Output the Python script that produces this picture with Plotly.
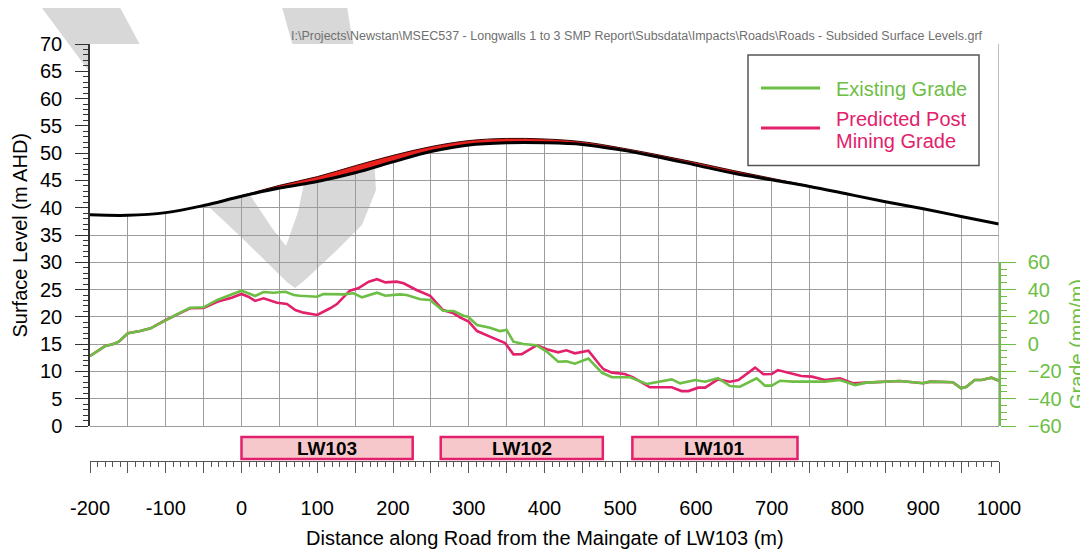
import plotly.graph_objects as go

# ---------------- data ----------------
surf_x = [-200, -150, -100, -50, 0, 50, 100, 150, 200, 250, 300, 350, 400,
          450, 500, 550, 600, 650, 700, 750, 800, 850, 900, 950, 1000]
existing_level = [38.7, 38.6, 39.1, 40.4, 42.2, 44.1, 45.7, 47.7, 49.6, 51.2, 52.3, 52.7, 52.6,
                  52.1, 51.0, 49.7, 48.3, 46.8, 45.4, 44.0, 42.5, 41.1, 39.8, 38.4, 37.0]
subsided_level = [38.7, 38.6, 39.1, 40.4, 42.1, 43.6, 44.8, 46.4, 48.4, 50.3, 51.5, 51.9, 51.9,
                  51.6, 50.6, 49.3, 47.8, 46.3, 45.1, 43.9, 42.5, 41.1, 39.8, 38.4, 37.0]

existing_grade_x = [-200, -190, -180, -170, -162, -150, -134, -120, -100, -81,
                    -68, -50, -32, -11, 0, 9, 18, 29, 42, 58,
                    69, 77, 100, 108, 135, 148, 159, 179, 190, 209,
                    218, 236, 249, 266, 280, 293, 299, 311, 328, 341,
                    350, 359, 372, 389, 403, 418, 429, 440, 458, 476,
                    489, 513, 535, 568, 579, 599, 612, 629, 645, 658,
                    680, 691, 700, 711, 728, 753, 770, 790, 810, 825,
                    847, 869, 900, 909, 939, 950, 957, 968, 977, 990, 1000]
existing_grade = [-8.7, -4.8, -1.4, -0.1, 1.8, 8.0, 9.6, 11.6, 17.7, 23.1,
                  26.7, 27.0, 32.4, 36.8, 39.2, 37.3, 35.3, 38.2, 37.7, 38.4,
                  36.0, 35.5, 34.8, 36.8, 36.5, 37.3, 34.3, 37.7, 35.5, 36.5,
                  36.0, 32.9, 32.4, 24.5, 24.3, 20.8, 20.1, 14.0, 12.0, 9.6,
                  10.4, 1.8, 0.1, -0.8, -5.5, -12.9, -12.6, -14.3, -10.6, -21.0,
                  -24.3, -24.3, -29.2, -25.8, -28.7, -26.3, -27.5, -25.0, -30.7, -31.2,
                  -25.0, -30.4, -30.4, -26.8, -27.5, -27.5, -27.5, -26.3, -30.0, -28.2,
                  -27.8, -27.0, -28.7, -27.5, -27.9, -32.4, -31.2, -26.3, -26.3, -24.6, -26.8]

predicted_grade_x = [-200, -190, -180, -170, -162, -150, -134, -120, -100, -81,
                     -68, -50, -32, -13, 0, 9, 18, 29, 47, 60,
                     71, 82, 100, 117, 126, 143, 154, 168, 179, 190,
                     205, 214, 231, 249, 266, 280, 289, 300, 311, 328,
                     348, 359, 370, 390, 403, 418, 429, 440, 458, 473,
                     478, 489, 506, 517, 539, 568, 581, 590, 603, 612,
                     629, 645, 656, 678, 689, 700, 708, 722, 739, 753,
                     770, 790, 807, 825, 847, 869, 900, 909, 939, 950,
                     957, 968, 977, 990, 1000]
predicted_grade = [-8.7, -4.8, -1.4, -0.1, 1.8, 8.0, 9.6, 11.6, 17.7, 22.8,
                   26.3, 26.5, 31.1, 34.0, 36.8, 34.8, 31.7, 33.6, 30.4, 29.4,
                   25.0, 23.1, 21.4, 26.3, 29.4, 39.2, 40.9, 45.8, 47.6, 45.3,
                   45.8, 44.6, 39.7, 35.5, 25.0, 22.6, 19.4, 16.5, 9.6, 5.5,
                   0.8, -7.5, -7.3, -0.8, -3.7, -6.0, -4.5, -6.7, -4.8, -15.3,
                   -18.4, -20.9, -21.9, -24.3, -31.6, -31.6, -34.4, -34.4, -31.9, -31.9,
                   -25.8, -27.5, -26.3, -17.2, -22.1, -21.9, -19.0, -20.9, -23.3, -23.8,
                   -26.3, -25.0, -28.7, -28.2, -27.8, -27.0, -28.7, -27.5, -27.9, -32.4,
                   -31.2, -26.3, -26.3, -24.6, -26.8]

panel_names = ["LW103", "LW102", "LW101"]
panel_start = [0, 263, 516]
panel_end = [226, 477, 734]

x_tick_vals = list(range(-200, 1001, 50))
x_tick_text = [str(v) if v % 100 == 0 else "" for v in x_tick_vals]

file_path = ("I:\\Projects\\Newstan\\MSEC537 - Longwalls 1 to 3 SMP Report\\Subsdata\\"
             "Impacts\\Roads\\Roads - Subsided Surface Levels.grf")

# ---------------- styling ----------------
# the page body has an 8 px margin, so the figure is drawn 8 px smaller
W, H = 1080, 541
ML, MR, MT, MB = 82, 89, 36, 88
PW, PH = W - ML - MR, H - MT - MB
OFF = 8
FONT = "Arial, Liberation Sans, sans-serif"
GREEN = "#6dbe45"
PINK = "#e3206b"
GRID = "#9c9c9c"


def px(x):
    return (x - OFF - ML) / PW


def py(y):
    return (H - MB - (y - OFF)) / PH


y_bottom = py(426)
y2_top = py(262.3)

fig = go.Figure()

# surface: subsided (lower), existing (upper, red fill between), white mask above
fig.add_trace(go.Scatter(x=surf_x, y=subsided_level, mode="lines",
                         line=dict(width=0, shape="spline", color="black"),
                         hoverinfo="skip", showlegend=False))
fig.add_trace(go.Scatter(x=surf_x, y=existing_level, mode="lines",
                         line=dict(width=1, shape="spline", color="#3a0000"),
                         fill="tonexty", fillcolor="#e8201e", showlegend=False))
fig.add_trace(go.Scatter(x=surf_x, y=[70] * len(surf_x), mode="lines",
                         line=dict(width=0, shape="spline"),
                         fill="tonexty", fillcolor="white",
                         hoverinfo="skip", showlegend=False))
fig.add_trace(go.Scatter(x=surf_x, y=subsided_level, mode="lines",
                         line=dict(width=3, shape="spline", color="black"),
                         showlegend=False))

# grades
fig.add_trace(go.Scatter(x=predicted_grade_x, y=predicted_grade, mode="lines",
                         line=dict(width=2.6, color=PINK), yaxis="y2",
                         name="Predicted Post Mining Grade", showlegend=False))
fig.add_trace(go.Scatter(x=existing_grade_x, y=existing_grade, mode="lines",
                         line=dict(width=2.6, color=GREEN), yaxis="y2",
                         name="Existing Grade", showlegend=False))

shapes = []
# watermark
wm_outer = [(36, 0), (88, 70), (150, 143), (208, 206), (240, 236), (287, 282), (295, 288),
            (305, 280), (335, 252), (362, 225), (376, 190), (373, 140), (360, 80), (350, 25), (346, 0)]
wm_inner = [(280, 0), (294, 50), (306, 110), (308, 165), (298, 212), (286, 246),
            (272, 228), (252, 198), (205, 140), (160, 82), (116, 0)]
pts = wm_outer + wm_inner
path = "M " + " L ".join(f"{px(a):.4f},{py(b):.4f}" for a, b in pts) + " Z"
shapes.append(dict(type="path", path=path, xref="paper", yref="paper",
                   fillcolor="#d8d8d8", line=dict(width=0), layer="below"))

# right frame line
shapes.append(dict(type="line", xref="x", yref="y", x0=1000, x1=1000, y0=0, y1=70,
                   line=dict(color=GRID, width=1.3), layer="above"))

# longwall panels
for s, e in zip(panel_start, panel_end):
    shapes.append(dict(type="rect", xref="x", yref="paper", x0=s, x1=e,
                       y0=py(459), y1=py(437), fillcolor="#f7c8cb",
                       line=dict(color=PINK, width=2.5)))

# legend box
shapes.append(dict(type="rect", xref="paper", yref="paper", x0=px(748), x1=px(979),
                   y0=py(165.5), y1=py(55), fillcolor="white", line=dict(color="#555", width=1.5)))
shapes.append(dict(type="line", xref="paper", yref="paper", x0=px(761), x1=px(820),
                   y0=py(88), y1=py(88), line=dict(color=GREEN, width=3)))
shapes.append(dict(type="line", xref="paper", yref="paper", x0=px(761), x1=px(820),
                   y0=py(128), y1=py(128), line=dict(color=PINK, width=3)))

annotations = []
for name, s, e in zip(panel_names, panel_start, panel_end):
    annotations.append(dict(x=(s + e) / 2, y=py(448), xref="x", yref="paper",
                            text=f"<b>{name}</b>", showarrow=False,
                            font=dict(family=FONT, size=19, color="black"),
                            xanchor="center", yanchor="middle"))

annotations += [
    dict(x=px(834), y=py(89), xref="paper", yref="paper", text="Existing Grade",
         showarrow=False, xanchor="left", yanchor="middle",
         font=dict(family=FONT, size=20, color=GREEN)),
    dict(x=px(834), y=py(119), xref="paper", yref="paper", text="Predicted Post",
         showarrow=False, xanchor="left", yanchor="middle",
         font=dict(family=FONT, size=20, color=PINK)),
    dict(x=px(834), y=py(141), xref="paper", yref="paper", text="Mining Grade",
         showarrow=False, xanchor="left", yanchor="middle",
         font=dict(family=FONT, size=20, color=PINK)),
    dict(x=px(19.5), y=py(235), xref="paper", yref="paper", text="Surface Level (m AHD)",
         showarrow=False, textangle=-90, xanchor="center", yanchor="middle",
         font=dict(family=FONT, size=20, color="black")),
    dict(x=px(1077), y=py(344), xref="paper", yref="paper", text="Grade (mm/m)",
         showarrow=False, textangle=-90, xanchor="center", yanchor="middle",
         font=dict(family=FONT, size=20, color=GREEN)),
    dict(x=px(544.5), y=py(538), xref="paper", yref="paper",
         text="Distance along Road from the Maingate of LW103 (m)",
         showarrow=False, xanchor="center", yanchor="middle",
         font=dict(family=FONT, size=20, color="black")),
    dict(x=px(985), y=py(36), xref="paper", yref="paper", text=file_path,
         showarrow=False, xanchor="right", yanchor="middle",
         font=dict(family=FONT, size=12.5, color="#707070")),
]

fig.update_layout(
    width=W, height=H,
    margin=dict(l=ML, r=MR, t=MT, b=MB, pad=0),
    paper_bgcolor="white", plot_bgcolor="rgba(0,0,0,0)",
    showlegend=False,
    shapes=shapes, annotations=annotations,
    xaxis=dict(range=[-200, 1000], anchor="free", position=0, domain=[0, 1],
               tickmode="array", tickvals=x_tick_vals, ticktext=x_tick_text,
               ticks="outside", ticklen=11, tickwidth=1.2, tickcolor="#555",
               showline=True, linecolor="#555", linewidth=1.2,
               showgrid=True, gridcolor=GRID, gridwidth=1.3, zeroline=False,
               minor=dict(dtick=10, tick0=0, ticks="outside", ticklen=5,
                          tickwidth=1, tickcolor="#555", showgrid=False),
               tickfont=dict(family=FONT, size=20, color="black"),
               ticklabelstandoff=18),
    yaxis=dict(range=[0, 70], domain=[y_bottom, 1], anchor="x",
               tickmode="linear", tick0=0, dtick=5,
               ticks="outside", ticklen=13, tickwidth=1.2, tickcolor="#333",
               showline=True, linecolor="#333", linewidth=1.5,
               showgrid=True, gridcolor=GRID, gridwidth=1.3,
               zeroline=True, zerolinecolor=GRID, zerolinewidth=1.3,
               minor=dict(dtick=1, ticks="outside", ticklen=5, tickwidth=1,
                          tickcolor="#333", showgrid=False),
               tickfont=dict(family=FONT, size=20, color="black"),
               ticklabelstandoff=9),
    yaxis2=dict(range=[-60, 60], domain=[y_bottom, y2_top], anchor="x", side="right",
                tickmode="linear", tick0=0, dtick=20,
                ticks="outside", ticklen=15, tickwidth=1.2, tickcolor=GREEN,
                showline=True, linecolor=GREEN, linewidth=1.5,
                showgrid=False, zeroline=False,
                minor=dict(dtick=5, ticks="outside", ticklen=6, tickwidth=1,
                           tickcolor=GREEN, showgrid=False),
                tickfont=dict(family=FONT, size=20, color=GREEN),
                ticklabelstandoff=8),
)

fig.write_html("out.html")
